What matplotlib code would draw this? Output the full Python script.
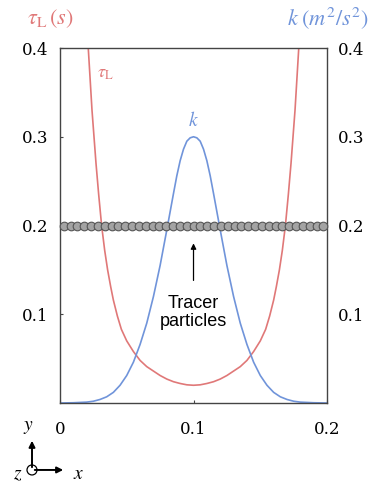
import matplotlib
matplotlib.use("Agg")
import matplotlib.pyplot as plt
import numpy as np

plt.rcParams['mathtext.fontset'] = 'stix'

# tau_L (s)
tau_x = [0.0195, 0.0212, 0.0226, 0.0240, 0.0255, 0.0270, 0.0290, 0.0312, 0.0335,
         0.0357, 0.0380, 0.0400, 0.0430, 0.0460, 0.0500, 0.0550, 0.0600, 0.0650,
         0.0700, 0.0750, 0.0800, 0.0850, 0.0900, 0.0950, 0.1000,
         0.1050, 0.1100, 0.1150, 0.1200, 0.1250, 0.1300, 0.1350, 0.1400, 0.1450,
         0.1500, 0.1540, 0.1570, 0.1600, 0.1620, 0.1643, 0.1665, 0.1688, 0.1710,
         0.1730, 0.1745, 0.1760, 0.1774, 0.1788, 0.1805]
tau_y = [0.460, 0.400, 0.365, 0.330, 0.300, 0.270, 0.235, 0.200, 0.172,
         0.150, 0.131, 0.116, 0.098, 0.083, 0.070, 0.058, 0.048, 0.041,
         0.036, 0.031, 0.027, 0.024, 0.022, 0.0205, 0.020,
         0.0205, 0.022, 0.024, 0.027, 0.031, 0.036, 0.041, 0.048, 0.058,
         0.070, 0.083, 0.098, 0.116, 0.131, 0.150, 0.172, 0.200, 0.235,
         0.270, 0.300, 0.330, 0.365, 0.400, 0.460]

# k (m^2/s^2)
k_x = [0.000, 0.010, 0.020, 0.025, 0.030, 0.035, 0.040, 0.045, 0.050, 0.055,
       0.060, 0.065, 0.070, 0.075, 0.080, 0.085, 0.0875, 0.090, 0.0925, 0.095,
       0.0975, 0.100,
       0.1025, 0.105, 0.1075, 0.110, 0.1125, 0.115, 0.120, 0.125, 0.130, 0.135,
       0.140, 0.145, 0.150, 0.155, 0.160, 0.165, 0.170, 0.175, 0.180, 0.190, 0.200]
k_y = [0.000, 0.0003, 0.001, 0.002, 0.004, 0.007, 0.012, 0.020, 0.031, 0.046,
       0.066, 0.090, 0.120, 0.155, 0.195, 0.236, 0.256, 0.273, 0.286, 0.295,
       0.2988, 0.300,
       0.2988, 0.295, 0.286, 0.273, 0.256, 0.236, 0.195, 0.155, 0.120, 0.090,
       0.066, 0.046, 0.031, 0.020, 0.012, 0.007, 0.004, 0.002, 0.001, 0.0003, 0.000]

# tracer particles along y = 0.2
n_particles = 39
particle_y = 0.2

xticks = [0, 0.1, 0.2]
xtick_labels = ['0', '0.1', '0.2']
yticks = [0.1, 0.2, 0.3, 0.4]
ytick_labels = ['0.1', '0.2', '0.3', '0.4']

red = '#e07878'
blue = '#7094da'

fig = plt.figure(figsize=(3.7, 4.83), dpi=100)
ax = fig.add_axes([0.162, 0.1656, 0.722, 0.735])

ax.plot(tau_x, tau_y, color=red, lw=1.2, solid_joinstyle='round')
ax.plot(k_x, k_y, color=blue, lw=1.2, solid_joinstyle='round')

px = np.linspace(0.0028, 0.1972, n_particles)
ax.plot(px, [particle_y] * n_particles, 'o', ms=6.2, mfc='#a3a3a3', mec='#555555',
        mew=0.8, clip_on=False, zorder=3)

ax.annotate('', xy=(0.1, 0.183), xytext=(0.1, 0.135),
            arrowprops=dict(arrowstyle='-|>', color='black', lw=0.9, mutation_scale=8))
ax.text(0.1, 0.102, 'Tracer\nparticles', ha='center', va='center', fontsize=13,
        family='Liberation Sans', linespacing=1.05)

ax.text(0.034, 0.372, r'$\tau_{\rm L}$', color=red, fontsize=13, ha='center', va='center')
ax.text(0.1, 0.318, r'$k$', color=blue, fontsize=14, ha='center', va='center')

ax.set_xlim(0, 0.2)
ax.set_ylim(0, 0.4)
ax.set_xticks(xticks)
ax.set_xticklabels(xtick_labels, family='DejaVu Serif', fontsize=12)
ax.set_yticks(yticks)
ax.set_yticklabels(ytick_labels, family='DejaVu Serif', fontsize=12)
ax.tick_params(axis='both', direction='in', length=2, width=0.8, color='#444444',
               right=False, labelright=True, top=False)
ax.tick_params(axis='x', pad=13)
ax.tick_params(axis='y', pad=8)
for s in ax.spines.values():
    s.set_color('#444444')
    s.set_linewidth(1.0)

fig.text(0.135, 0.962, r'$\tau_{\rm L}\,(s)$', color=red, fontsize=16, ha='center', va='center')
fig.text(0.995, 0.962, r'$k\;(m^2/s^2)$', color=blue, fontsize=16, ha='right', va='center')

# coordinate frame in the corner
cx, cy = 0.0865, 0.027
fig.patches.append(matplotlib.patches.Ellipse((cx, cy), 10 / 370, 10 / 483, transform=fig.transFigure,
                                              fill=False, ec='black', lw=0.9))
fig.patches.append(matplotlib.patches.FancyArrowPatch((cx, cy), (cx, cy + 32 / 483),
                                                      transform=fig.transFigure, arrowstyle='-|>',
                                                      mutation_scale=9, color='black', lw=1.4))
fig.patches.append(matplotlib.patches.FancyArrowPatch((cx, cy), (cx + 34 / 370, cy),
                                                      transform=fig.transFigure, arrowstyle='-|>',
                                                      mutation_scale=9, color='black', lw=1.4))
fig.text(cx - 0.01, 0.117, r'$y$', fontsize=14, ha='center', va='center')
fig.text(0.213, 0.019, r'$x$', fontsize=14, ha='center', va='center')
fig.text(0.048, 0.019, r'$z$', fontsize=14, ha='center', va='center')

fig.savefig('out.png', dpi=100)
